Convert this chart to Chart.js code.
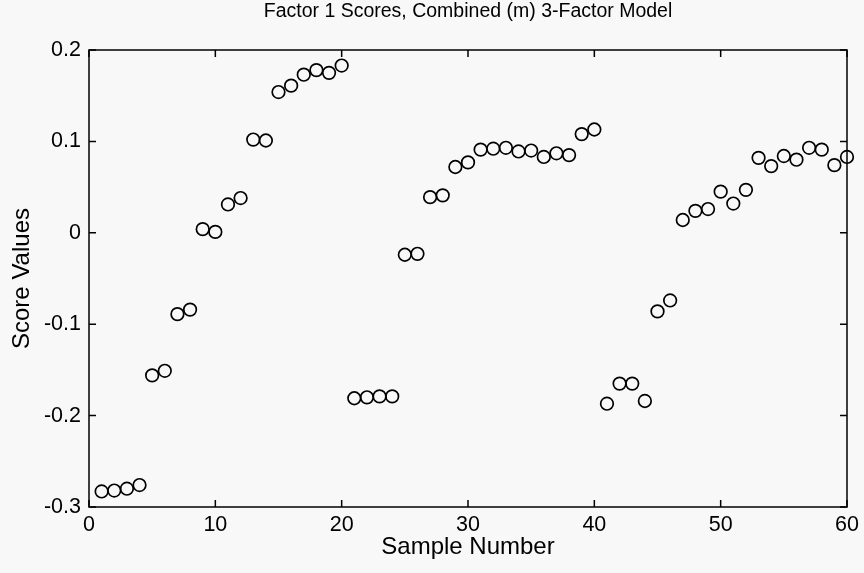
<!DOCTYPE html>
<html>
<head>
<meta charset="utf-8">
<script src="https://cdn.jsdelivr.net/npm/chart.js@4.4.1/dist/chart.umd.min.js"></script>
<style>
    html, body { margin: 0; padding: 0; background: #f8f8f8; }
    #wrap { width: 864px; height: 573px; }
</style>
</head>
<body>
<div id="wrap"><canvas id="scoreChart" width="864" height="573"></canvas></div>
<script>
const chartTitle = 'Factor 1 Scores, Combined (m) 3-Factor Model';
const xLabel = 'Sample Number';
const yLabel = 'Score Values';

const sampleNumbers = [
    1, 2, 3, 4, 5, 6, 7, 8, 9, 10,
    11, 12, 13, 14, 15, 16, 17, 18, 19, 20,
    21, 22, 23, 24, 25, 26, 27, 28, 29, 30,
    31, 32, 33, 34, 35, 36, 37, 38, 39, 40,
    41, 42, 43, 44, 45, 46, 47, 48, 49, 50,
    51, 52, 53, 54, 55, 56, 57, 58, 59, 60
];
const scoreValues = [
    -0.283, -0.282, -0.280, -0.276, -0.156, -0.151, -0.089, -0.084, 0.004, 0.001,
    0.031, 0.038, 0.102, 0.101, 0.154, 0.161, 0.173, 0.178, 0.175, 0.183,
    -0.181, -0.180, -0.179, -0.179, -0.024, -0.023, 0.039, 0.041, 0.072, 0.077,
    0.091, 0.092, 0.093, 0.089, 0.090, 0.083, 0.087, 0.085, 0.108, 0.113,
    -0.187, -0.165, -0.165, -0.184, -0.086, -0.074, 0.014, 0.024, 0.026, 0.045,
    0.032, 0.047, 0.082, 0.073, 0.084, 0.080, 0.093, 0.091, 0.074, 0.083
];
const xTicks = [0, 10, 20, 30, 40, 50, 60];
const yTicks = [-0.3, -0.2, -0.1, 0, 0.1, 0.2];

const FONT = 'Arial, "Liberation Sans", sans-serif';

// matlab style box with ticks pointing inward on all four sides, plus title
const boxPlugin = {
    id: 'boxPlugin',
    afterDraw(chart) {
        const ctx = chart.ctx;
        const a = chart.chartArea;
        const xs = chart.scales.x;
        const ys = chart.scales.y;
        const len = 7;
        ctx.save();
        ctx.strokeStyle = '#000';
        ctx.lineWidth = 1.5;
        ctx.strokeRect(a.left, a.top, a.right - a.left, a.bottom - a.top);
        ctx.beginPath();
        xTicks.forEach(v => {
            const px = xs.getPixelForValue(v);
            ctx.moveTo(px, a.bottom); ctx.lineTo(px, a.bottom - len);
            ctx.moveTo(px, a.top); ctx.lineTo(px, a.top + len);
        });
        yTicks.forEach(v => {
            const py = ys.getPixelForValue(v);
            ctx.moveTo(a.left, py); ctx.lineTo(a.left + len, py);
            ctx.moveTo(a.right, py); ctx.lineTo(a.right - len, py);
        });
        ctx.stroke();

        ctx.fillStyle = '#000';
        ctx.font = '19.5px ' + FONT;
        ctx.textAlign = 'center';
        ctx.textBaseline = 'middle';
        ctx.fillText(chartTitle, (a.left + a.right) / 2, 12);
        ctx.restore();
    }
};

const ctx = document.getElementById('scoreChart').getContext('2d');
const scoreChart = new Chart(ctx, {
    type: 'scatter',
    data: {
        datasets: [{
            label: 'Factor 1 Scores',
            data: sampleNumbers.map((n, i) => ({ x: n, y: scoreValues[i] })),
            pointStyle: 'circle',
            pointRadius: 6.3,
            pointHoverRadius: 6.3,
            pointBorderWidth: 1.7,
            pointBorderColor: '#000',
            pointBackgroundColor: 'rgba(0,0,0,0)',
            clip: false
        }]
    },
    options: {
        responsive: false,
        animation: false,
        layout: { padding: { top: 50, right: 17, left: 0, bottom: 0 } },
        plugins: {
            legend: { display: false },
            title: { display: false },
            tooltip: { enabled: false }
        },
        scales: {
            x: {
                type: 'linear',
                min: 0,
                max: 60,
                afterFit: s => { s.height = 66; },
                afterBuildTicks: s => { s.ticks = xTicks.map(v => ({ value: v })); },
                grid: { display: false, drawTicks: false },
                border: { display: false },
                ticks: {
                    color: '#000',
                    font: { family: FONT, size: 21.5 },
                    padding: 5,
                    maxRotation: 0
                },
                title: {
                    display: true,
                    text: xLabel,
                    color: '#000',
                    font: { family: FONT, size: 24 },
                    padding: { top: 0, bottom: 11 }
                }
            },
            y: {
                type: 'linear',
                min: -0.3,
                max: 0.2,
                afterFit: s => { s.width = 89; },
                afterBuildTicks: s => { s.ticks = yTicks.map(v => ({ value: v })); },
                grid: { display: false, drawTicks: false },
                border: { display: false },
                ticks: {
                    color: '#000',
                    font: { family: FONT, size: 21.5 },
                    padding: 8,
                    callback: v => String(Number(v.toFixed(1)))
                },
                title: {
                    display: true,
                    text: yLabel,
                    color: '#000',
                    font: { family: FONT, size: 24 },
                    padding: { top: 8, bottom: 0 }
                }
            }
        }
    },
    plugins: [boxPlugin]
});
</script>
</body>
</html>
